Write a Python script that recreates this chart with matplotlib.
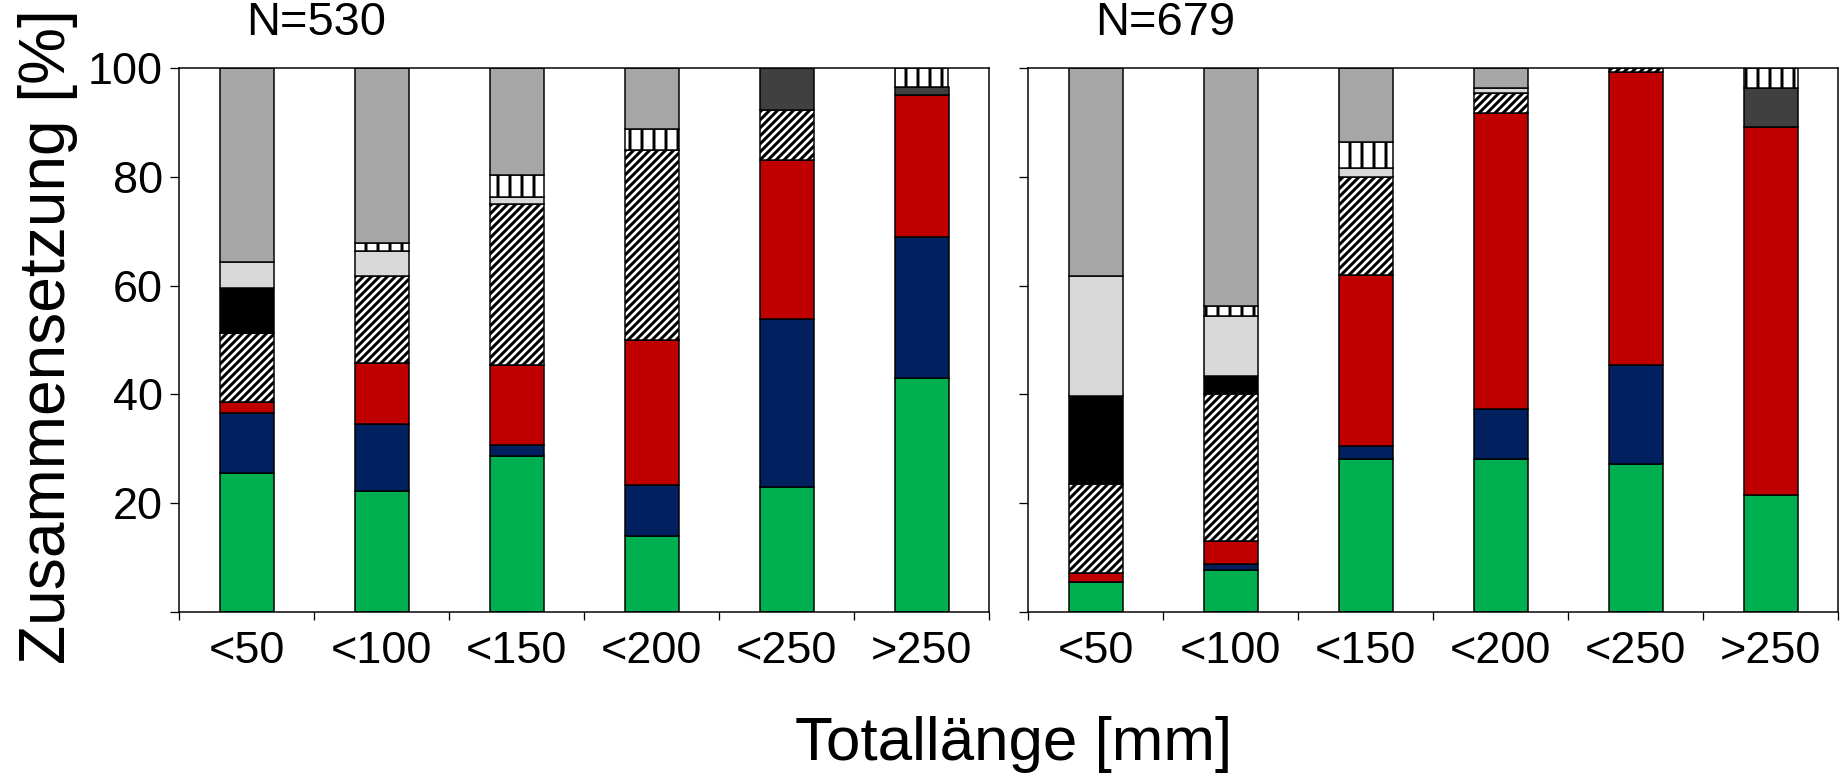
import numpy as np
import matplotlib
matplotlib.use('Agg')
import matplotlib.pyplot as plt

plt.rcParams['font.family'] = ['Liberation Sans', 'DejaVu Sans']
plt.rcParams['hatch.linewidth'] = 3.0

cats = ['<50', '<100', '<150', '<200', '<250', '>250']
groups = ['green', 'navy', 'red', 'hatch', 'black', 'lgrey', 'dgrey', 'vstripe', 'grey']

# N=530 (left panel), share in %
left = {
    'green':   [25.6, 22.3, 28.7, 13.9, 23.0, 43.1],
    'navy':    [10.9, 12.2, 2.0, 9.5, 30.8, 25.8],
    'red':     [2.1, 11.2, 14.7, 26.6, 29.2, 26.1],
    'hatch':   [12.7, 16.0, 29.6, 34.9, 9.2, 0],
    'black':   [8.2, 0, 0, 0, 0, 0],
    'lgrey':   [4.9, 4.6, 1.2, 0, 0, 0],
    'dgrey':   [0, 0, 0, 0, 7.8, 1.5],
    'vstripe': [0, 1.6, 4.2, 3.9, 0, 3.5],
    'grey':    [35.6, 32.1, 19.6, 11.2, 0, 0],
}

# N=679 (right panel)
right = {
    'green':   [5.6, 7.7, 28.1, 28.1, 27.2, 21.5],
    'navy':    [0, 1.1, 2.4, 9.2, 18.2, 0],
    'red':     [1.5, 4.2, 31.4, 54.4, 53.9, 67.7],
    'hatch':   [16.5, 27.1, 18.1, 3.7, 0.7, 0],
    'black':   [16.1, 3.2, 0, 0, 0, 0],
    'lgrey':   [22.1, 11.1, 1.7, 0.9, 0, 0],
    'dgrey':   [0, 0, 0, 0, 0, 7.2],
    'vstripe': [0, 1.9, 4.7, 0, 0, 3.6],
    'grey':    [38.2, 43.7, 13.6, 3.7, 0, 0],
}

style = {
    'green':   dict(color='#00b050'),
    'navy':    dict(color='#002060'),
    'red':     dict(color='#c00000'),
    'hatch':   dict(color='white', hatch='///'),
    'black':   dict(color='black'),
    'lgrey':   dict(color='#d9d9d9'),
    'dgrey':   dict(color='#404040'),
    'vstripe': dict(color='white', hatch='|'),
    'grey':    dict(color='#a6a6a6'),
}

dpi = 72
fig = plt.figure(figsize=(1843 / dpi, 774 / dpi), dpi=dpi)
ax1 = fig.add_axes([179 / 1843, 1 - 612 / 774, 810 / 1843, 544 / 774])
ax2 = fig.add_axes([1028 / 1843, 1 - 612 / 774, 810 / 1843, 544 / 774])

x = np.arange(len(cats))
for ax, data, title in [(ax1, left, 'N=530'), (ax2, right, 'N=679')]:
    bottom = np.zeros(len(cats))
    for g in groups:
        vals = np.array(data[g], dtype=float)
        m = vals > 0
        ax.bar(x[m], vals[m], 0.4, bottom=bottom[m], edgecolor='black',
               linewidth=1.5, zorder=2, **style[g])
        bottom += vals
    ax.set_xlim(-0.5, 5.5)
    ax.set_ylim(0, 100)
    ax.set_yticks([0, 20, 40, 60, 80, 100])
    ax.set_xticks(x)
    ax.set_xticklabels(cats)
    ax.set_xticks(np.arange(-0.5, 6, 1), minor=True)
    ax.tick_params(axis='x', which='major', length=0, pad=19, labelsize=45)
    ax.tick_params(axis='x', which='minor', length=8, width=1.3, direction='out')
    ax.tick_params(axis='y', length=9, width=1.3, direction='out', pad=7, labelsize=45)
    for s in ax.spines.values():
        s.set_linewidth(1.5)
    ax.text(0, 1.061, title, transform=ax.get_xaxis_transform(),
            ha='left', va='baseline', fontsize=47)

ax1.set_yticklabels(['', '20', '40', '60', '80', '100'])
ax2.tick_params(axis='y', labelleft=False)

fig.text(48 / 1843, 1 - 337 / 774, 'Zusammensetzung [%]', rotation=90,
         ha='center', va='center', fontsize=64)
fig.text(1014 / 1843, 1 - 760 / 774, 'Totallänge [mm]', ha='center',
         va='baseline', fontsize=62)

fig.savefig('out.png', dpi=dpi)
